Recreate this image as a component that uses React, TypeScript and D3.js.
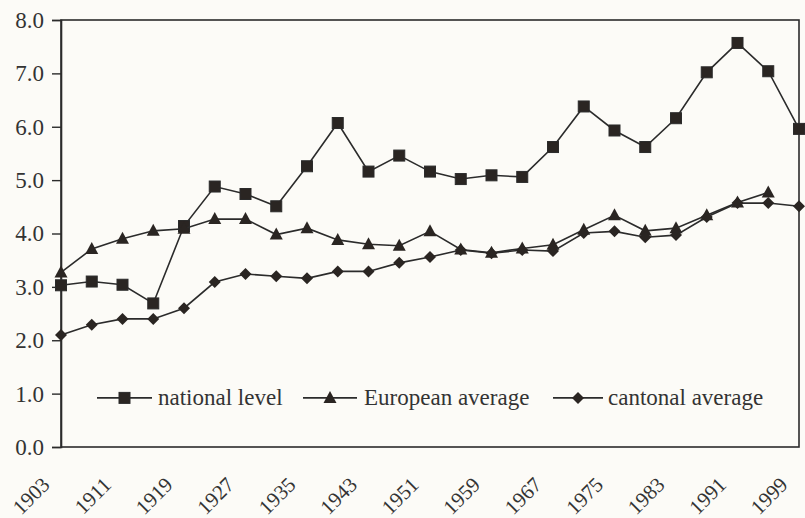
import * as d3 from "d3";
import React from "react";

// years sampled every 4 years, labels every 8
const years = [
  1903, 1907, 1911, 1915, 1919, 1923, 1927, 1931, 1935, 1939, 1943, 1947, 1951,
  1955, 1959, 1963, 1967, 1971, 1975, 1979, 1983, 1987, 1991, 1995, 1999,
];
const yearLabels = [1903, 1911, 1919, 1927, 1935, 1943, 1951, 1959, 1967, 1975, 1983, 1991, 1999];
const yTicks = [0, 1, 2, 3, 4, 5, 6, 7, 8];

const nationalLevel = [
  3.03, 3.1, 3.04, 2.69, 4.14, 4.88, 4.74, 4.51, 5.26, 6.07, 5.16, 5.46, 5.16,
  5.02, 5.09, 5.06, 5.62, 6.38, 5.93, 5.62, 6.16, 7.02, 7.57, 7.04, 5.96,
];
const europeanAverage: Array<number | null> = [
  3.27, 3.71, 3.9, 4.05, 4.09, 4.27, 4.27, 3.98, 4.1, 3.88, 3.8, 3.77, 4.04,
  3.7, 3.64, 3.72, 3.79, 4.07, 4.34, 4.05, 4.1, 4.34, 4.58, 4.77, null,
];
const cantonalAverage = [
  2.1, 2.29, 2.4, 2.4, 2.6, 3.09, 3.24, 3.2, 3.16, 3.29, 3.29, 3.45, 3.56,
  3.69, 3.63, 3.69, 3.67, 4.01, 4.04, 3.93, 3.97, 4.31, 4.57, 4.57, 4.51,
];

const seriesNames = ["national level", "European average", "cantonal average"];

const WIDTH = 805;
const HEIGHT = 518;
const FONT = "'Liberation Serif', 'Times New Roman', serif";
const INK = "#2b2b2b";

type Marker = "square" | "triangle" | "diamond";

function drawMarker(g: d3.Selection<SVGGElement, unknown, null, undefined>, kind: Marker, x: number, y: number) {
  if (kind === "square") {
    g.append("rect")
      .attr("x", x - 5.5)
      .attr("y", y - 5.5)
      .attr("width", 11)
      .attr("height", 11)
      .attr("fill", "#2a2522")
      .attr("stroke", INK)
      .attr("stroke-width", 1);
  } else if (kind === "triangle") {
    g.append("path")
      .attr("d", `M${x},${y - 7}L${x + 6.5},${y + 5}L${x - 6.5},${y + 5}Z`)
      .attr("fill", "#2a2522");
  } else {
    g.append("path")
      .attr("d", `M${x},${y - 6}L${x + 6},${y}L${x},${y + 6}L${x - 6},${y}Z`)
      .attr("fill", "#2a2522");
  }
}

export default function App() {
  const svgRef = React.useRef<SVGSVGElement>(null);
  const margin = { top: 20, right: 6, bottom: 71, left: 61 };

  React.useEffect(() => {
    document.body.style.margin = "0";
    const svg = d3.select(svgRef.current);
    svg.selectAll("*").remove();

    const x = d3
      .scaleLinear()
      .domain([1903, 1999])
      .range([margin.left, WIDTH - margin.right]);
    const y = d3
      .scaleLinear()
      .domain([0, 8])
      .range([HEIGHT - margin.bottom, margin.top]);

    svg.append("rect").attr("width", WIDTH).attr("height", HEIGHT).attr("fill", "#fcfbf7");

    // frame
    svg
      .append("rect")
      .attr("x", x(1903))
      .attr("y", y(8))
      .attr("width", x(1999) - x(1903))
      .attr("height", y(0) - y(8))
      .attr("fill", "none")
      .attr("stroke", INK)
      .attr("stroke-width", 1.6);

    // y axis
    const yAxis = svg
      .append("g")
      .attr("transform", `translate(${margin.left},0)`)
      .call(
        d3
          .axisLeft(y)
          .tickValues(yTicks)
          .tickFormat((d) => d3.format(".1f")(d as number))
          .tickSize(9)
          .tickPadding(8)
      );
    yAxis.select(".domain").attr("stroke", INK).attr("stroke-width", 1.6);
    yAxis.selectAll(".tick line").attr("stroke", INK).attr("stroke-width", 1.4);
    yAxis
      .selectAll(".tick text")
      .attr("font-family", FONT)
      .attr("font-size", 23)
      .attr("fill", "#333");

    // x labels, rotated
    svg
      .append("g")
      .selectAll("text")
      .data(yearLabels)
      .enter()
      .append("text")
      .attr("transform", (d) => `translate(${x(d) - 10},${y(0) + 39}) rotate(-45)`)
      .attr("text-anchor", "end")
      .attr("font-family", FONT)
      .attr("font-size", 21)
      .attr("fill", "#333")
      .text((d) => String(d));

    const all: Array<[Array<number | null>, Marker]> = [
      [nationalLevel, "square"],
      [europeanAverage, "triangle"],
      [cantonalAverage, "diamond"],
    ];

    all.forEach(([values, kind]) => {
      const pts = years
        .map((yr, i) => [yr, values[i]] as [number, number | null])
        .filter((p) => p[1] !== null) as Array<[number, number]>;
      const line = d3
        .line<[number, number]>()
        .x((d) => x(d[0]))
        .y((d) => y(d[1]));
      svg
        .append("path")
        .attr("d", line(pts))
        .attr("fill", "none")
        .attr("stroke", INK)
        .attr("stroke-width", 1.6);
      const g = svg.append("g");
      pts.forEach((p) => drawMarker(g, kind, x(p[0]), y(p[1])));
    });

    // legend
    const legendY = y(0.92);
    const legendItems: Array<[number, number, number, Marker]> = [
      [97, 152, 158, "square"],
      [303, 357, 364, "triangle"],
      [553, 603, 608, "diamond"],
    ];
    legendItems.forEach(([x0, x1, tx, kind], i) => {
      svg
        .append("line")
        .attr("x1", x0)
        .attr("x2", x1)
        .attr("y1", legendY)
        .attr("y2", legendY)
        .attr("stroke", INK)
        .attr("stroke-width", 1.6);
      const g = svg.append("g");
      drawMarker(g, kind, (x0 + x1) / 2, legendY);
      svg
        .append("text")
        .attr("x", tx)
        .attr("y", legendY)
        .attr("dy", "0.33em")
        .attr("font-family", FONT)
        .attr("font-size", 23)
        .attr("fill", "#333")
        .text(seriesNames[i]);
    });
  }, []);

  return <svg ref={svgRef} width={WIDTH} height={HEIGHT} style={{ display: "block" }}></svg>;
}
